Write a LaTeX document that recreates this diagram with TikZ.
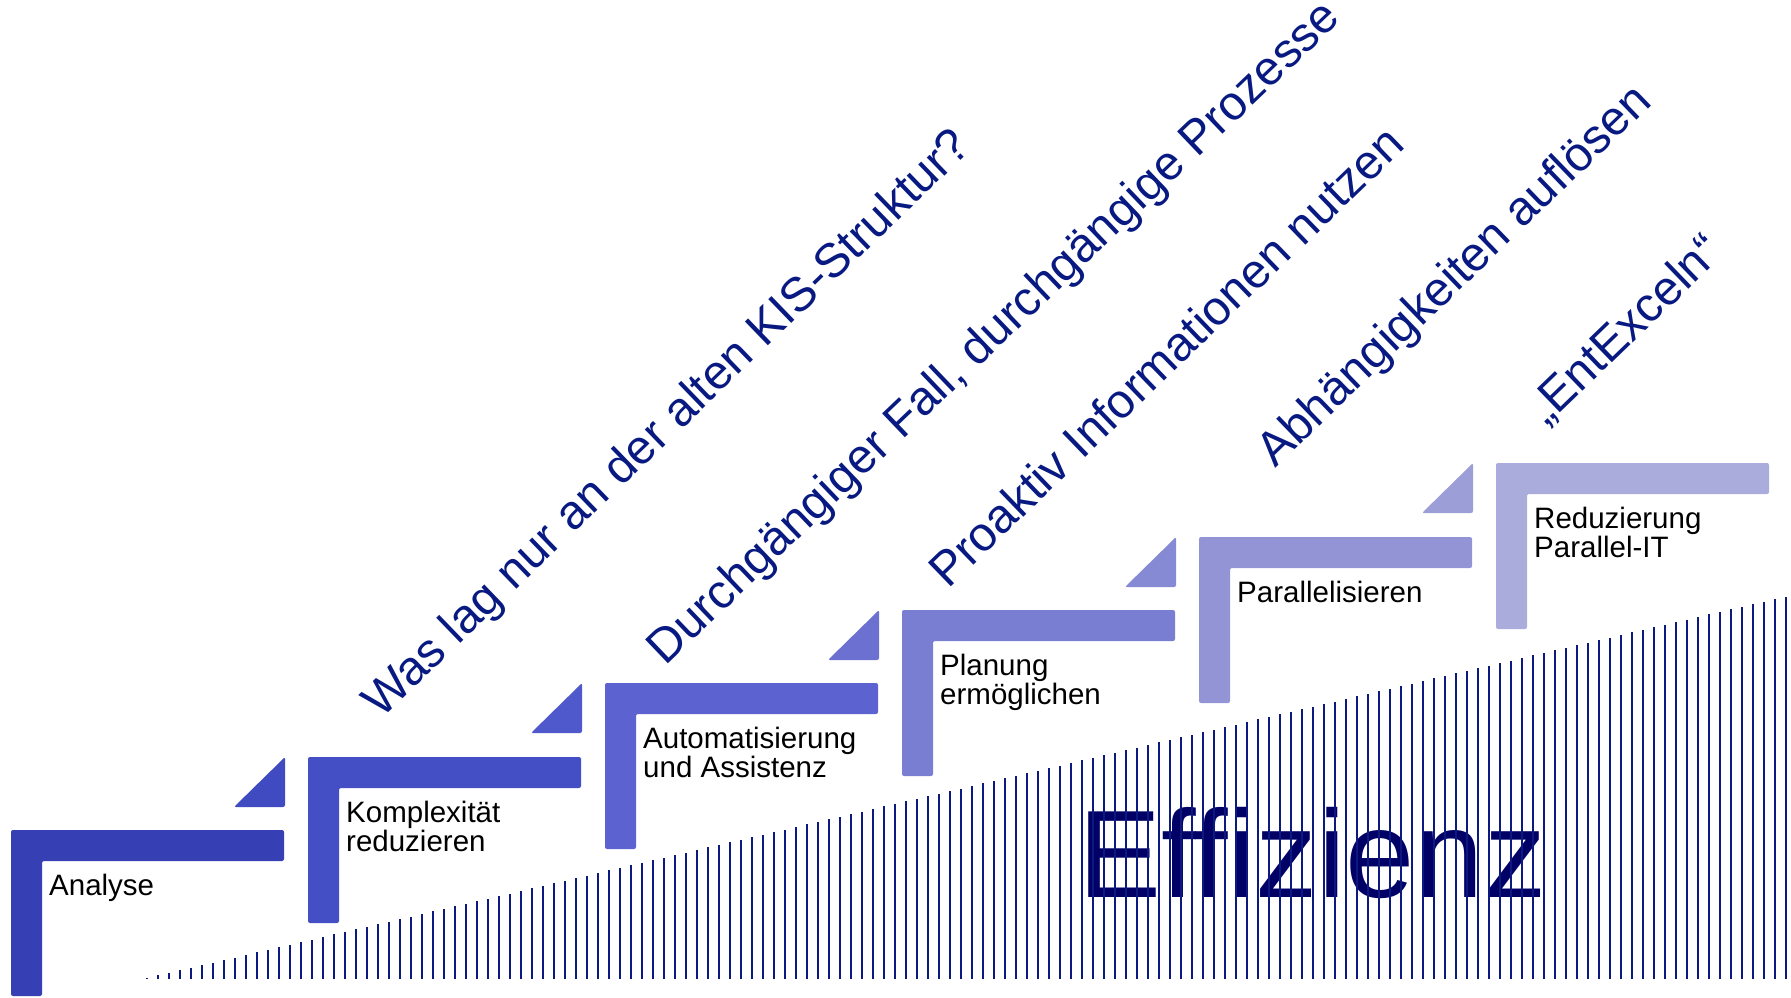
\documentclass[tikz,border=0pt]{standalone}
\usepackage{fontspec}
\setmainfont{Liberation Sans}
\definecolor{stepa}{RGB}{54,64,180}
\definecolor{stepb}{RGB}{68,79,198}
\definecolor{stepc}{RGB}{92,99,208}
\definecolor{stepd}{RGB}{122,126,210}
\definecolor{stepe}{RGB}{147,148,214}
\definecolor{stepf}{RGB}{170,173,220}
\definecolor{navytext}{RGB}{8,26,130}
\definecolor{navydark}{RGB}{0,0,102}
\definecolor{hatchblue}{RGB}{12,26,128}
\begin{document}
\begin{tikzpicture}[x=1pt,y=-1pt,
    stair/.style={rounded corners=2pt},
    steplabel/.style={anchor=base west,inner sep=0pt,align=left,
        font=\fontsize{29.5}{29}\selectfont},
    goal/.style={anchor=base west,inner sep=0pt,rotate=44,text=navytext,
        font=\fontsize{48}{52}\selectfont},
    hatch/.style={draw=hatchblue,line width=2.2pt}]
        \useasboundingbox (0,0) rectangle (1791,997);
        % stairs
        \fill[stair,stepa] (11,830) -- (284,830) -- (284,861) -- (42,861) -- (42,996) -- (11,996) -- cycle;
        \fill[stair,stepb] (308,757) -- (581,757) -- (581,788) -- (339,788) -- (339,923) -- (308,923) -- cycle;
        \fill[stair,stepc] (605,683) -- (878,683) -- (878,714) -- (636,714) -- (636,849) -- (605,849) -- cycle;
        \fill[stair,stepd] (902,610) -- (1175,610) -- (1175,641) -- (933,641) -- (933,776) -- (902,776) -- cycle;
        \fill[stair,stepe] (1199,537) -- (1472,537) -- (1472,568) -- (1230,568) -- (1230,703) -- (1199,703) -- cycle;
        \fill[stair,stepf] (1496,463) -- (1769,463) -- (1769,494) -- (1527,494) -- (1527,629) -- (1496,629) -- cycle;
        % small wedges
        \fill[stair,stepb!70!stepa] (285,757) -- (285,807) -- (234,807) -- cycle;
        \fill[stair,stepc!50!stepb] (582,683) -- (582,733) -- (531,733) -- cycle;
        \fill[stair,stepd!50!stepc] (879,610) -- (879,660) -- (828,660) -- cycle;
        \fill[stair,stepe!50!stepd] (1176,537) -- (1176,587) -- (1125,587) -- cycle;
        \fill[stair,stepf!40!stepe] (1473,463) -- (1473,513) -- (1422,513) -- cycle;
        % step labels (base = last line)
        \node[steplabel] (analyse) at (49,895) {Analyse};
        \node[steplabel] (komplex) at (346,851) {Komplexität\\reduzieren};
        \node[steplabel] (auto) at (643,777) {Automatisierung\\und Assistenz};
        \node[steplabel] (planung) at (940,704) {Planung\\ermöglichen};
        \node[steplabel] (parallel) at (1237,602) {Parallelisieren};
        \node[steplabel] (reduz) at (1534,557) {Reduzierung\\Parallel-IT};
        % goals
        \node[goal] (kis) at (381,720) {Was lag nur an der alten KIS-Struktur?};
        \node[goal,rotate=-0.3] (fall) at (665,667) {Durchgängiger Fall, durchgängige Prozesse};
        \node[goal] (proaktiv) at (948,590) {Proaktiv Informationen nutzen};
        \node[goal] (abh) at (1275,469) {Abhängigkeiten auflösen};
        \node[goal] (excel) at (1546,427) {„EntExceln“};
        % efficiency wedge
        \node[anchor=base west,inner sep=0pt,text=navydark,
            font=\fontsize{124.5}{130}\selectfont] (eff) at (1078,897) {Effizienz};
        \foreach \k in {0,...,149}
            \draw[hatch] ({147+11*\k},979) -- ({147+11*\k},{978-2.56*\k});
    \end{tikzpicture}
\end{document}
